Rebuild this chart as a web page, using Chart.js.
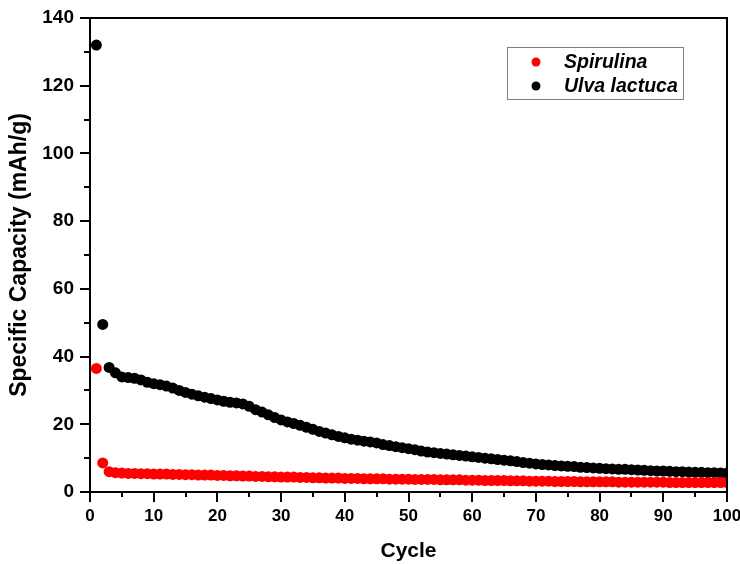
<!DOCTYPE html>
<html>
<head>
<meta charset="utf-8">
<script src="https://cdn.jsdelivr.net/npm/chart.js@4.4.1/dist/chart.umd.min.js"></script>
<style>
  html, body { margin: 0; padding: 0; background: #fff; }
  #chart { display: block; }
</style>
</head>
<body>
<canvas id="chart" width="740" height="564"></canvas>
<script>
const cycles = [
  1, 2, 3, 4, 5, 6, 7, 8, 9, 10,
  11, 12, 13, 14, 15, 16, 17, 18, 19, 20,
  21, 22, 23, 24, 25, 26, 27, 28, 29, 30,
  31, 32, 33, 34, 35, 36, 37, 38, 39, 40,
  41, 42, 43, 44, 45, 46, 47, 48, 49, 50,
  51, 52, 53, 54, 55, 56, 57, 58, 59, 60,
  61, 62, 63, 64, 65, 66, 67, 68, 69, 70,
  71, 72, 73, 74, 75, 76, 77, 78, 79, 80,
  81, 82, 83, 84, 85, 86, 87, 88, 89, 90,
  91, 92, 93, 94, 95, 96, 97, 98, 99, 100
];

// specific capacity, mAh/g
const spirulina = [
  36.5, 8.6, 6.0, 5.7, 5.6, 5.5, 5.5, 5.4, 5.4, 5.3,
  5.3, 5.3, 5.2, 5.2, 5.1, 5.1, 5.0, 5.0, 5.0, 4.9,
  4.9, 4.8, 4.8, 4.7, 4.7, 4.6, 4.6, 4.5, 4.5, 4.4,
  4.4, 4.4, 4.3, 4.3, 4.2, 4.2, 4.1, 4.1, 4.1, 4.0,
  4.0, 4.0, 3.9, 3.9, 3.9, 3.9, 3.8, 3.8, 3.8, 3.8,
  3.7, 3.7, 3.7, 3.7, 3.6, 3.6, 3.6, 3.6, 3.5, 3.5,
  3.5, 3.4, 3.4, 3.4, 3.4, 3.3, 3.3, 3.3, 3.2, 3.2,
  3.2, 3.2, 3.1, 3.1, 3.1, 3.1, 3.0, 3.0, 3.0, 3.0,
  3.0, 3.0, 2.9, 2.9, 2.9, 2.9, 2.9, 2.9, 2.9, 2.9,
  2.8, 2.8, 2.8, 2.8, 2.8, 2.8, 2.8, 2.8, 2.8, 2.8
];

const ulvaLactuca = [
  132.0, 49.5, 36.8, 35.2, 34.0, 33.8, 33.6, 33.1, 32.4, 32.0,
  31.7, 31.3, 30.7, 30.0, 29.4, 28.9, 28.4, 28.0, 27.6, 27.2,
  26.8, 26.5, 26.3, 26.0, 25.3, 24.3, 23.6, 22.8, 22.0, 21.3,
  20.7, 20.2, 19.7, 19.1, 18.5, 17.9, 17.4, 16.9, 16.4, 16.0,
  15.6, 15.3, 15.0, 14.8, 14.5, 14.0, 13.7, 13.4, 13.1, 12.8,
  12.5, 12.1, 11.8, 11.6, 11.4, 11.2, 11.0, 10.8, 10.6, 10.4,
  10.2, 10.0, 9.8, 9.6, 9.4, 9.2, 9.0, 8.7, 8.5, 8.3,
  8.1, 8.0, 7.8, 7.7, 7.6, 7.5, 7.3, 7.2, 7.1, 7.0,
  6.9, 6.8, 6.7, 6.7, 6.6, 6.5, 6.4, 6.3, 6.2, 6.2,
  6.1, 6.0, 6.0, 5.9, 5.8, 5.8, 5.7, 5.7, 5.6, 5.6
];

const seriesNames = ['Spirulina', 'Ulva lactuca'];
const seriesColors = ['#ff0000', '#000000'];

const xMinorTicks = [5, 15, 25, 35, 45, 55, 65, 75, 85, 95];
const yMinorTicks = [10, 30, 50, 70, 90, 110, 130];

const FONT = "'Liberation Sans', Arial, sans-serif";

function toPoints(values) {
  return values.map((v, i) => ({ x: cycles[i], y: v }));
}

// closes the box on top/right and adds the short minor ticks
const framePlugin = {
  id: 'frame',
  afterDraw(chart) {
    const { ctx, chartArea: a, scales } = chart;
    ctx.save();
    ctx.strokeStyle = '#000';
    ctx.lineWidth = 2;
    ctx.beginPath();
    ctx.moveTo(a.left, a.top);
    ctx.lineTo(a.right, a.top);
    ctx.lineTo(a.right, a.bottom);
    xMinorTicks.forEach(v => {
      const px = Math.round(scales.x.getPixelForValue(v));
      ctx.moveTo(px, a.bottom);
      ctx.lineTo(px, a.bottom + 5);
    });
    yMinorTicks.forEach(v => {
      const py = Math.round(scales.y.getPixelForValue(v));
      ctx.moveTo(a.left, py);
      ctx.lineTo(a.left - 6, py);
    });
    ctx.stroke();
    ctx.restore();
  }
};

// boxed legend sitting inside the plot area
const boxLegendPlugin = {
  id: 'boxLegend',
  afterDraw(chart) {
    const { ctx } = chart;
    const box = { x: 507, y: 47, w: 176, h: 52 };
    ctx.save();
    ctx.fillStyle = '#fff';
    ctx.fillRect(box.x, box.y, box.w, box.h);
    ctx.strokeStyle = '#7f7f7f';
    ctx.lineWidth = 1;
    ctx.strokeRect(box.x + 0.5, box.y + 0.5, box.w, box.h);
    ctx.font = 'italic bold 19.5px ' + FONT;
    ctx.textBaseline = 'middle';
    chart.data.datasets.forEach((ds, i) => {
      const cy = box.y + 15 + i * 24;
      ctx.fillStyle = ds.backgroundColor;
      ctx.beginPath();
      ctx.arc(box.x + 29, cy, 4.5, 0, Math.PI * 2);
      ctx.fill();
      ctx.fillStyle = '#000';
      ctx.fillText(ds.label, box.x + 57, cy + 1);
    });
    ctx.restore();
  }
};

new Chart(document.getElementById('chart'), {
  type: 'scatter',
  data: {
    datasets: [
      {
        label: seriesNames[0],
        data: toPoints(spirulina),
        backgroundColor: seriesColors[0],
        borderColor: seriesColors[0],
        pointRadius: 5.5,
        borderWidth: 0,
        clip: 0
      },
      {
        label: seriesNames[1],
        data: toPoints(ulvaLactuca),
        backgroundColor: seriesColors[1],
        borderColor: seriesColors[1],
        pointRadius: 5.5,
        borderWidth: 0,
        clip: 0
      }
    ]
  },
  options: {
    responsive: false,
    animation: false,
    layout: { padding: { top: 18, right: 13, bottom: 0, left: 0 } },
    plugins: {
      legend: { display: false },
      tooltip: { enabled: false }
    },
    scales: {
      x: {
        type: 'linear',
        min: 0,
        max: 100,
        afterFit(scale) {
          scale.height = 72;
          // let the last label run off the canvas edge
          scale.paddingRight = 0;
          scale.paddingLeft = 0;
        },
        ticks: {
          stepSize: 10,
          color: '#000',
          padding: 4,
          maxRotation: 0,
          font: { family: FONT, size: 17, weight: 'bold' }
        },
        grid: {
          drawOnChartArea: false,
          drawTicks: true,
          tickLength: 10,
          color: '#000',
          lineWidth: 2
        },
        border: { display: true, color: '#000', width: 2 },
        title: {
          display: true,
          text: 'Cycle',
          color: '#000',
          padding: { top: 0, bottom: 0 },
          font: { family: FONT, size: 21, weight: 'bold' }
        }
      },
      y: {
        type: 'linear',
        min: 0,
        max: 140,
        afterFit(scale) { scale.width = 90; },
        ticks: {
          stepSize: 20,
          color: '#000',
          padding: 6,
          font: { family: FONT, size: 19, weight: 'bold' }
        },
        grid: {
          drawOnChartArea: false,
          drawTicks: true,
          tickLength: 10,
          color: '#000',
          lineWidth: 2
        },
        border: { display: true, color: '#000', width: 2 },
        title: {
          display: true,
          text: 'Specific Capacity (mAh/g)',
          color: '#000',
          padding: { top: 6, bottom: 0 },
          font: { family: FONT, size: 23, weight: 'bold' }
        }
      }
    }
  },
  plugins: [framePlugin, boxLegendPlugin]
});
</script>
</body>
</html>
